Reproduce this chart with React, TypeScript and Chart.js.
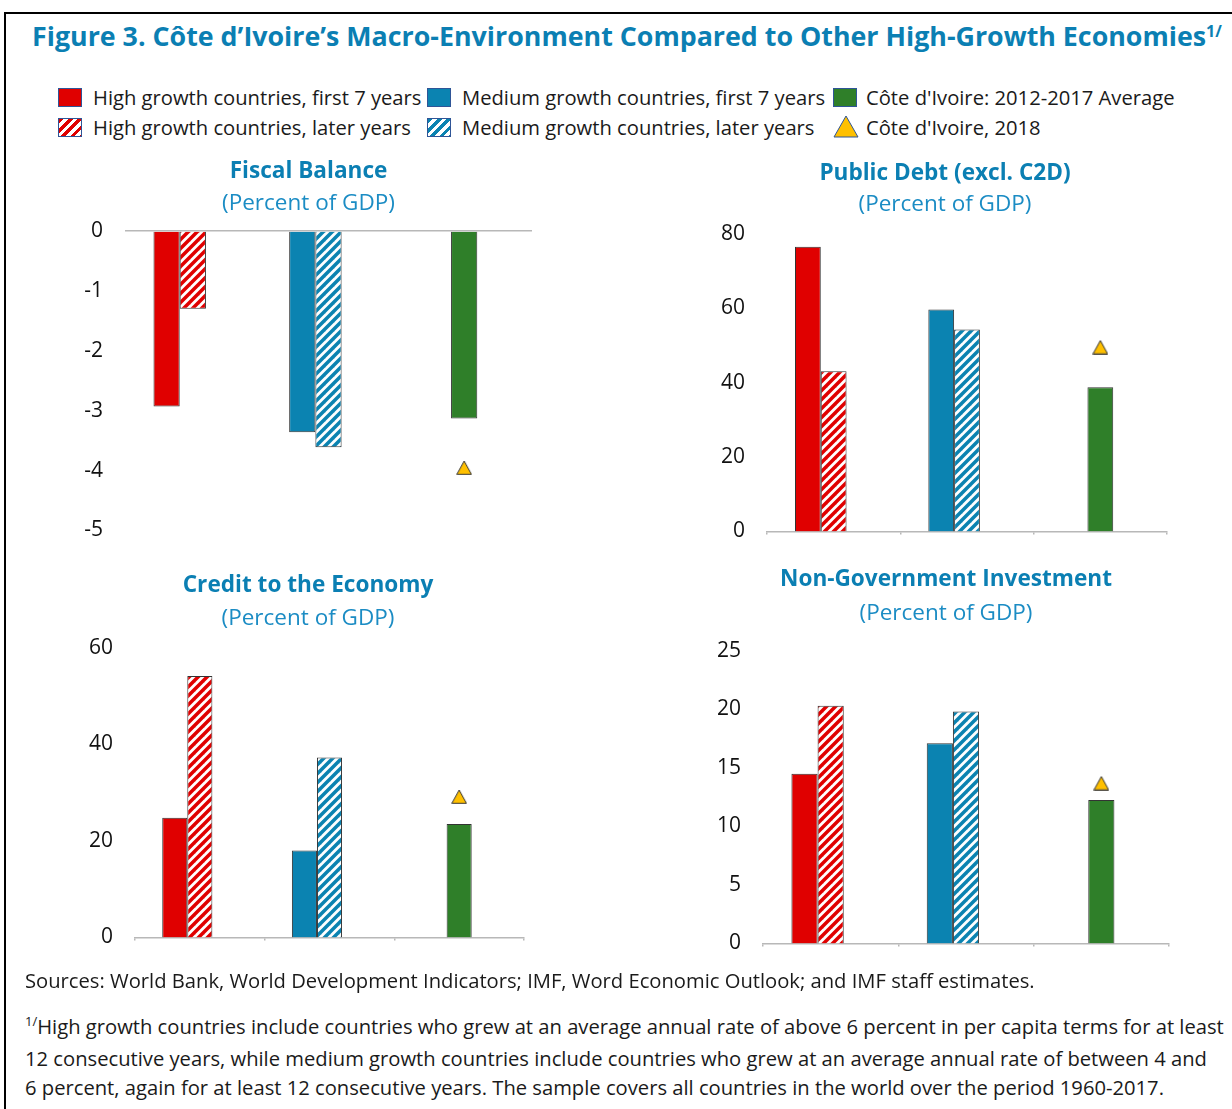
import React, { useEffect, useRef } from "react";
import { Chart, registerables } from "chart.js";
Chart.register(...registerables);

// ---------------- data ----------------
const categories = ["High growth countries", "Medium growth countries", "Côte d'Ivoire"];
const panelTitles = ["Fiscal Balance", "Public Debt (excl. C2D)", "Credit to the Economy", "Non-Government Investment"];
const panelSubtitle = "(Percent of GDP)";
// values per panel: [Fiscal Balance, Public Debt, Credit, Non-Gov Investment]
const highFirst7 = [-2.93, 76.6, 24.8, 14.5];
const highLater = [-1.3, 43.1, 54.2, 20.3];
const medFirst7 = [-3.36, 59.7, 18.0, 17.1];
const medLater = [-3.61, 54.3, 37.3, 19.8];
const civAverage = [-3.13, 38.8, 23.5, 12.25];
const civ2018 = [-3.95, 49.6, 29.2, 13.7];
const yMin = [-5, 0, 0, 0];
const yMax = [0, 80, 60, 25];
const yStep = [1, 20, 20, 5];

const legendLabels = [
  "High growth countries, first 7 years",
  "Medium growth countries, first 7 years",
  "Côte d'Ivoire: 2012-2017 Average",
  "High growth countries, later years",
  "Medium growth countries, later years",
  "Côte d'Ivoire, 2018",
];

// ---------------- styles ----------------
const FONT = "'Open Sans', sans-serif";
const RED = "#E00000";
const BLUE = "#0B83B1";
const GREEN = "#2F7F29";
const YELLOW = "#FFC000";
const TITLE_BLUE = "#0B7FB3";
const SUB_BLUE = "#1B8CC4";
const AXIS = "#B8B8B8";
const BAR_BORDER = "#333333";

// canvas placement: yw = left label area width, rw = spacer on the right (keeps titles centred like the original)
const PANEL_LAYOUT = [
  { left: 82, top: 158, width: 453, height: 407, yw: 43, rw: 3, b1: 5.08, b2: 13.8, xAxis: false },
  { left: 719, top: 160, width: 452, height: 406, yw: 48, rw: 4, b1: 4.38, b2: 15.5, xAxis: true },
  { left: 87, top: 572, width: 442, height: 400, yw: 48, rw: 5, b1: 6.38, b2: 15.5, xAxis: true },
  { left: 715, top: 566, width: 462, height: 412, yw: 48, rw: 8, b1: 7.38, b2: 23.2, xAxis: true },
];

function makeHatch(color: string): CanvasPattern | string {
  const p = 9;
  const c = document.createElement("canvas");
  c.width = p;
  c.height = p;
  const g = c.getContext("2d");
  if (!g) return color;
  g.fillStyle = "#ffffff";
  g.fillRect(0, 0, p, p);
  g.strokeStyle = color;
  g.lineWidth = 3.5;
  for (const x0 of [-p, 0, p]) {
    g.beginPath();
    g.moveTo(x0 - 2, p + 2);
    g.lineTo(x0 + p + 2, -2);
    g.stroke();
  }
  const pat = g.createPattern(c, "repeat");
  return pat || color;
}

function makeTriangle(): HTMLCanvasElement {
  const c = document.createElement("canvas");
  c.width = 16;
  c.height = 15;
  const g = c.getContext("2d")!;
  g.beginPath();
  g.moveTo(8, 1);
  g.lineTo(15.3, 14.3);
  g.lineTo(0.7, 14.3);
  g.closePath();
  g.fillStyle = YELLOW;
  g.fill();
  g.strokeStyle = "#333";
  g.lineWidth = 1;
  g.stroke();
  return c;
}

function Panel({ idx }: { idx: number }) {
  const ref = useRef<HTMLCanvasElement>(null);
  const L = PANEL_LAYOUT[idx];
  useEffect(() => {
    if (!ref.current) return;
    const redHatch = makeHatch(RED);
    const blueHatch = makeHatch(BLUE);
    const tri = makeTriangle();
    const chart = new Chart(ref.current, {
      type: "bar",
      data: {
        labels: categories,
        datasets: [
          {
            label: "first 7 years",
            data: [highFirst7[idx], medFirst7[idx], null],
            backgroundColor: [RED, BLUE, "rgba(0,0,0,0)"],
            borderColor: BAR_BORDER,
            borderWidth: 1,
            categoryPercentage: 0.58,
            barPercentage: 1,
          },
          {
            label: "later years",
            data: [highLater[idx], medLater[idx], null],
            backgroundColor: [redHatch, blueHatch, "rgba(0,0,0,0)"] as any,
            borderColor: BAR_BORDER,
            borderWidth: 1,
            categoryPercentage: 0.58,
            barPercentage: 1,
          },
          {
            label: "spacer",
            data: [null, null, null],
            categoryPercentage: 0.58,
            barPercentage: 1,
          },
          {
            label: "Côte d'Ivoire: 2012-2017 Average",
            data: [null, null, civAverage[idx]],
            backgroundColor: GREEN,
            borderColor: BAR_BORDER,
            borderWidth: 1,
            grouped: false,
            categoryPercentage: 0.1933,
            barPercentage: 1,
          },
          {
            type: "line",
            label: "Côte d'Ivoire, 2018",
            data: [null, null, civ2018[idx]],
            showLine: false,
            pointStyle: tri as any,
            pointRadius: 8,
            order: -1,
          } as any,
        ],
      },
      options: {
        responsive: false,
        animation: false,
        devicePixelRatio: 1,
        layout: { autoPadding: false, padding: { left: 0, right: 0, top: 0, bottom: 0 } },
        plugins: {
          legend: { display: false },
          tooltip: { enabled: false },
          title: {
            display: true,
            text: panelTitles[idx],
            color: TITLE_BLUE,
            font: { family: FONT, size: 22.6, weight: "bold", lineHeight: 1.2 },
            padding: { top: 0, bottom: L.b1 },
          },
          subtitle: {
            display: true,
            text: panelSubtitle,
            color: SUB_BLUE,
            font: { family: FONT, size: 22.5, lineHeight: 1.2 },
            padding: { top: 0, bottom: L.b2 },
          },
        },
        scales: {
          x: {
            display: L.xAxis,
            ticks: { display: false },
            grid: {
              display: true,
              drawOnChartArea: false,
              drawTicks: true,
              tickLength: 3,
              color: AXIS,
              lineWidth: 1.5,
              offset: true,
            },
            border: { display: true, color: AXIS, width: 1.5 },
          },
          y: {
            min: yMin[idx],
            max: yMax[idx],
            ticks: {
              stepSize: yStep[idx],
              color: "#111",
              font: { family: FONT, size: 21 },
              padding: 22,
            },
            grid: {
              display: idx === 0,
              drawTicks: false,
              color: (ctx: any) => (ctx.tick && ctx.tick.value === 0 ? AXIS : "rgba(0,0,0,0)"),
              lineWidth: 1.5,
            },
            border: { display: false },
            afterFit: (s: any) => {
              s.width = L.yw;
            },
          },
          ySpacer: {
            type: "linear",
            position: "right",
            display: true,
            ticks: { display: false },
            grid: { display: false, drawTicks: false },
            border: { display: false },
            afterFit: (s: any) => {
              s.width = L.rw;
            },
          },
        },
      } as any,
    });
    return () => chart.destroy();
  }, [idx]);
  return (
    <canvas
      ref={ref}
      width={L.width}
      height={L.height}
      style={{ position: "absolute", left: L.left, top: L.top, width: L.width, height: L.height }}
    />
  );
}

const hatchCss = (c: string) =>
  `repeating-linear-gradient(135deg, ${c} 0px, ${c} 3.4px, #fff 3.4px, #fff 6.6px)`;

function Swatch({ kind, x, y }: { kind: number; x: number; y: number }) {
  if (kind === 5) {
    return (
      <svg style={{ position: "absolute", left: x, top: y - 3 }} width={26} height={23}>
        <polygon points="13,1 25,22 1,22" fill={YELLOW} stroke="#2F5597" strokeWidth={1} />
      </svg>
    );
  }
  const bg =
    kind === 0 ? RED : kind === 1 ? BLUE : kind === 2 ? GREEN : kind === 3 ? hatchCss(RED) : hatchCss(BLUE);
  return (
    <div
      style={{
        position: "absolute",
        left: x,
        top: y,
        width: 24,
        height: 19,
        boxSizing: "border-box",
        border: "1px solid #2F5597",
        background: bg,
      }}
    />
  );
}

export default function App() {
  const colX = [58, 427, 833];
  const textX = [93, 462, 866];
  return (
    <div
      style={{
        position: "absolute",
        left: 0,
        top: 0,
        width: 1232,
        height: 1109,
        overflow: "hidden",
        background: "#fff",
        fontFamily: FONT,
        color: "#1a1a1a",
      }}
    >
      <div
        style={{
          position: "absolute",
          left: 4,
          top: 12,
          width: 1300,
          height: 1200,
          border: "2px solid #000",
          boxSizing: "border-box",
        }}
      />
      <div
        style={{
          position: "absolute",
          left: 32,
          top: 18,
          fontSize: 26.8,
          fontWeight: 700,
          color: TITLE_BLUE,
          whiteSpace: "nowrap",
          lineHeight: "36px",
        }}
      >
        Figure 3. Côte d’Ivoire’s Macro-Environment Compared to Other High-Growth Economies
        <sup style={{ fontSize: 16, verticalAlign: 0, position: "relative", top: -9 }}>1/</sup>
      </div>
      {legendLabels.map((lab, i) => {
        const row = Math.floor(i / 3);
        const col = i % 3;
        return (
          <React.Fragment key={i}>
            <Swatch kind={i} x={colX[col]} y={row === 0 ? 88 : 118} />
            <div
              style={{
                position: "absolute",
                left: textX[col],
                top: row === 0 ? 82 : 112,
                lineHeight: "30px",
                fontSize: 20.2,
                whiteSpace: "nowrap",
              }}
            >
              {lab}
            </div>
          </React.Fragment>
        );
      })}
      {[0, 1, 2, 3].map((i) => (
        <Panel key={i} idx={i} />
      ))}
      <div style={{ position: "absolute", left: 25, top: 966, fontSize: 20.2, lineHeight: "29px", whiteSpace: "nowrap" }}>
        Sources: World Bank, World Development Indicators; IMF, Word Economic Outlook; and IMF staff estimates.
      </div>
      <div style={{ position: "absolute", left: 25, top: 1012, fontSize: 20.2, lineHeight: "29px", whiteSpace: "nowrap" }}>
        <sup style={{ fontSize: 13, verticalAlign: 0, position: "relative", top: -8 }}>1/</sup>
        High growth countries include countries who grew at an average annual rate of above 6 percent in per capita terms for at least
        <br />
        12 consecutive years, while medium growth countries include countries who grew at an average annual rate of between 4 and
        <br />
        6 percent, again for at least 12 consecutive years. The sample covers all countries in the world over the period 1960-2017.
      </div>
    </div>
  );
}
